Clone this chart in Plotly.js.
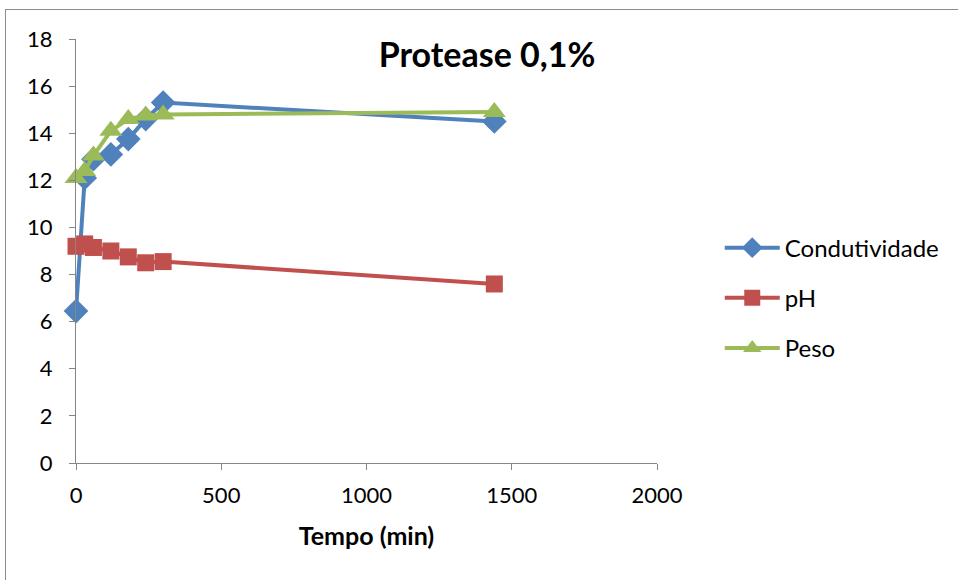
<!DOCTYPE html>
<html>
<head>
<meta charset="utf-8">
<script src="https://cdn.plot.ly/plotly-3.0.1.min.js"></script>
<style>
  html, body { margin: 0; padding: 0; background: #fff; }
  #wrap { position: relative; width: 958px; height: 580px; overflow: hidden; }
  #chart { position: absolute; left: 0; top: 0; width: 958px; height: 580px; }
  #frame { position: absolute; left: 5px; top: 9px; width: 1000px; height: 700px;
           border: 1px solid #8c8c8c; pointer-events: none; box-sizing: border-box; }
</style>
</head>
<body>
<div id="wrap">
  <div id="chart"></div>
  <div id="frame"></div>
</div>
<script>
const tempo = [0, 30, 60, 120, 180, 240, 300, 1440];
const condutividade = [6.45, 12.1, 12.9, 13.1, 13.75, 14.6, 15.3, 14.5];
const ph = [9.2, 9.3, 9.15, 9.0, 8.75, 8.5, 8.55, 7.6];
const peso = [12.1, 12.4, 13.05, 14.1, 14.6, 14.75, 14.8, 14.9];
const seriesNames = ["Condutividade", "pH", "Peso"];
const titleText = "Protease 0,1%";
const xTitle = "Tempo (min)";

const FONT = "Lato, 'Open Sans', sans-serif";

const traces = [
  {x: tempo, y: condutividade, name: seriesNames[0], legendgroup: "a", mode: "lines+markers", cliponaxis: false,
   line: {color: "#4F81BD", width: 4}, marker: {symbol: "diamond", size: 19, color: "#4F81BD"}},
  {x: tempo, y: ph, name: seriesNames[1], legendgroup: "b", mode: "lines+markers", cliponaxis: false,
   line: {color: "#C0504D", width: 4}, marker: {symbol: "square", size: 17, color: "#C0504D"}},
  {x: tempo, y: peso, name: seriesNames[2], legendgroup: "c", mode: "lines+markers", cliponaxis: false,
   line: {color: "#9BBB59", width: 4}, marker: {symbol: "triangle-up", size: 20, color: "#9BBB59"}}
];

const layout = {
  width: 958, height: 580,
  margin: {l: 76, r: 301, t: 39, b: 117},
  paper_bgcolor: "#fff", plot_bgcolor: "#fff",
  font: {family: FONT, color: "#000", size: 22},
  title: {text: "<b>" + titleText + "</b>", font: {family: FONT, size: 34, color: "#000"},
          xref: "paper", y: 0.905, yref: "container", xanchor: "center", yanchor: "middle"},
  xaxis: {range: [0, 2000], tickvals: [0, 500, 1000, 1500, 2000], showgrid: false, zeroline: false,
          showline: true, linecolor: "#868686", linewidth: 1, ticks: "outside", ticklen: 6,
          tickcolor: "#868686", ticklabelstandoff: 7,
          tickfont: {family: FONT, size: 22},
          title: {text: "<b>" + xTitle + "</b>", font: {family: FONT, size: 25}, standoff: 20}},
  yaxis: {range: [0, 18], dtick: 2, showgrid: false, zeroline: false,
          showline: true, linecolor: "#868686", linewidth: 1, ticks: "outside", ticklen: 6,
          tickcolor: "#868686", ticklabelstandoff: 12,
          tickfont: {family: FONT, size: 22}},
  legend: {x: 1.108, y: 0.389, xanchor: "left", yanchor: "middle", traceorder: "grouped",
           tracegroupgap: 16, itemwidth: 55, font: {family: FONT, size: 24},
           bgcolor: "rgba(0,0,0,0)"},
  showlegend: true
};
layout.title.x = (487 - 76) / 581;
layout.title.y = 1 - 55 / 580;

Plotly.newPlot("chart", traces, layout, {displayModeBar: false, staticPlot: true});
</script>
</body>
</html>
